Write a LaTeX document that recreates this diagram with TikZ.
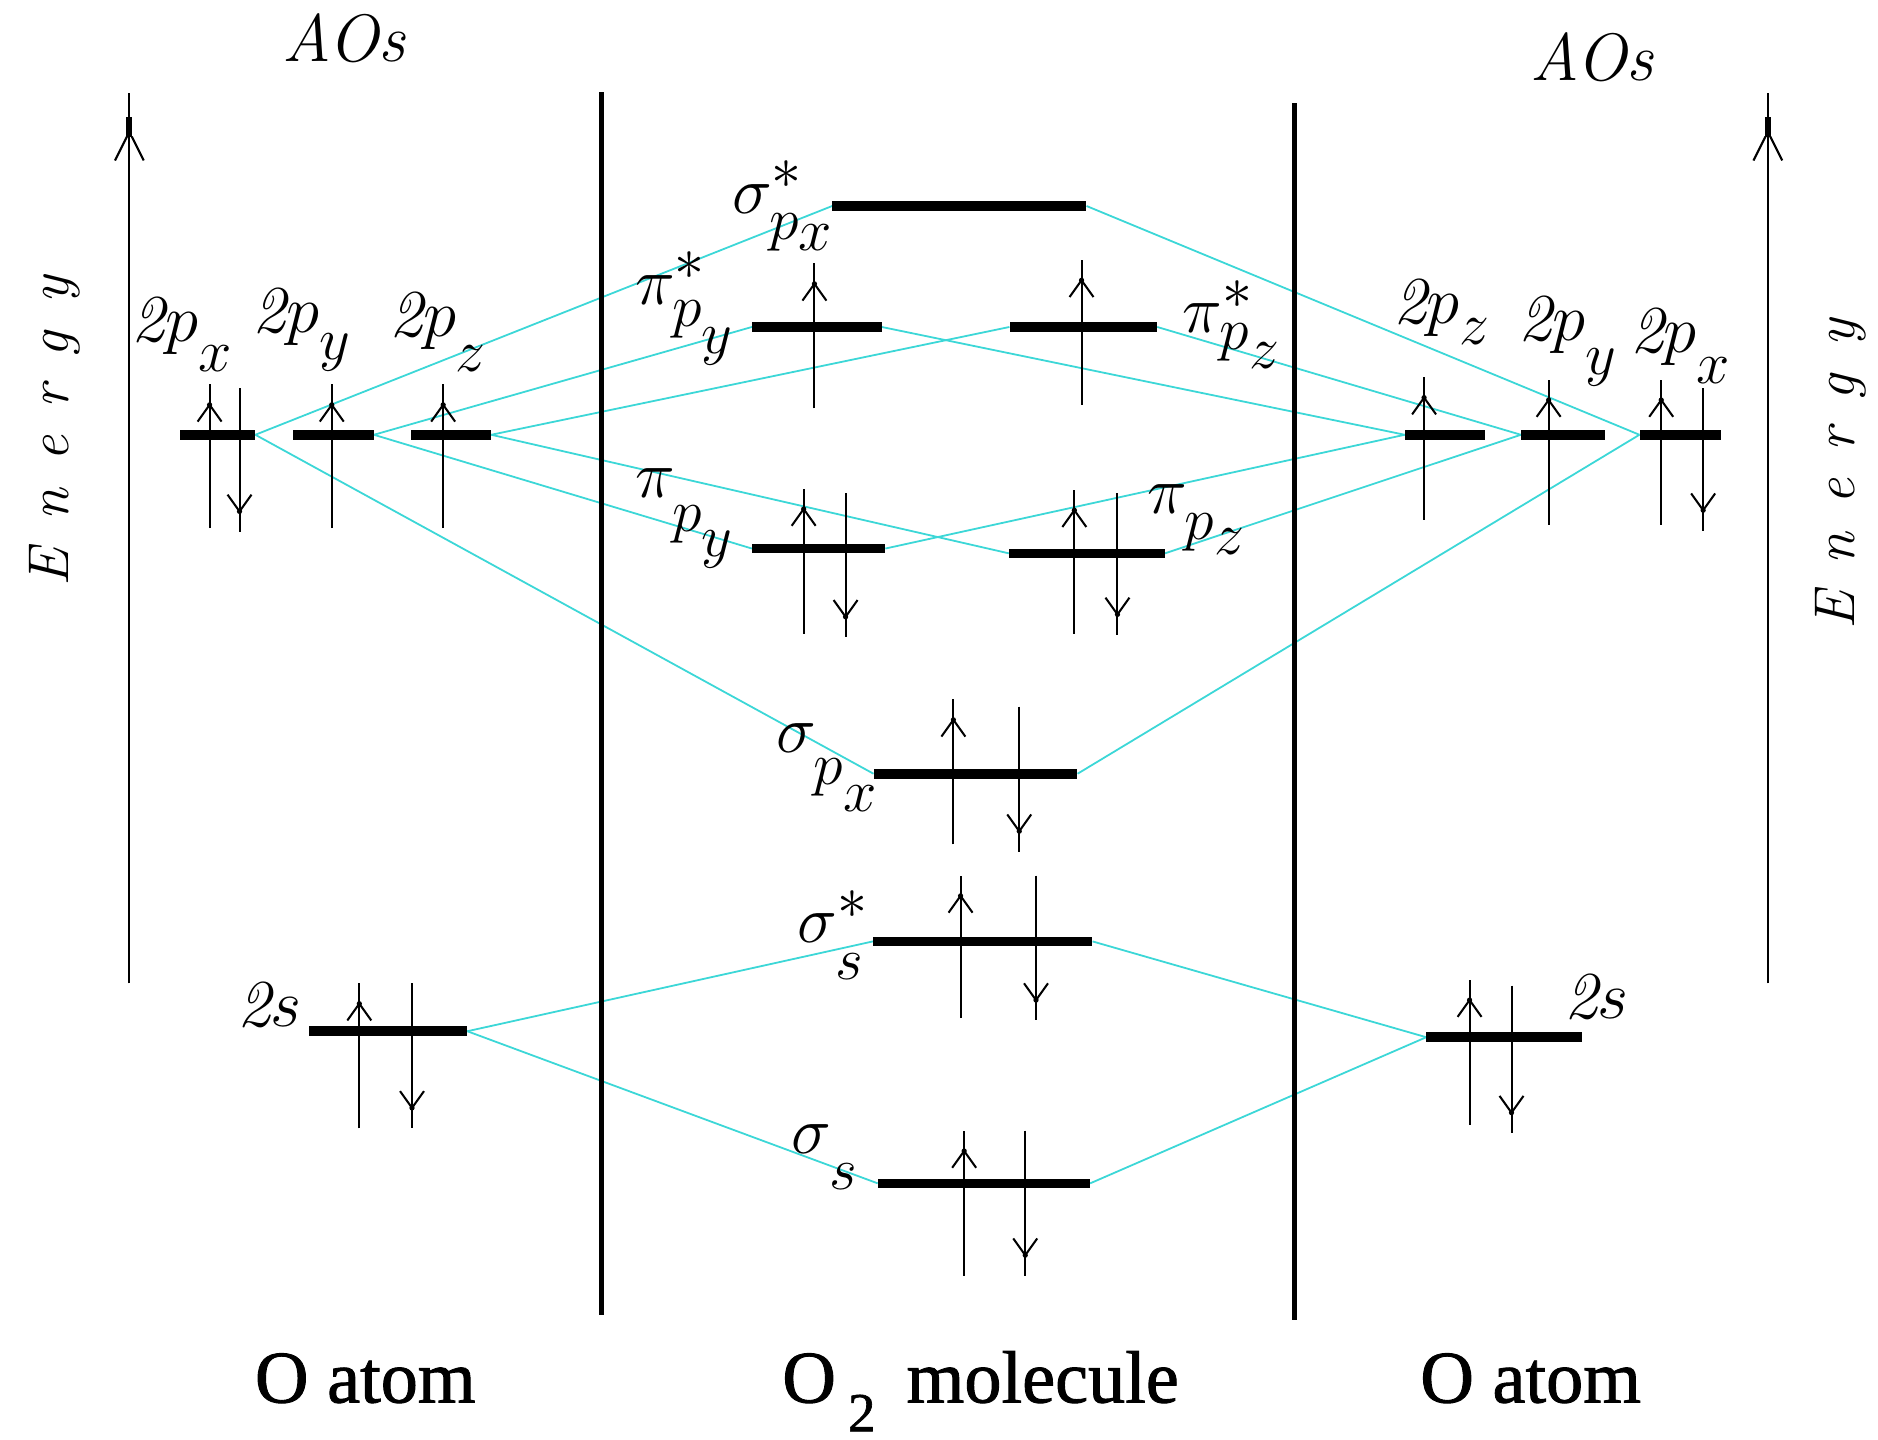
\RequirePackage{fix-cm}
\documentclass[tikz,border=0pt]{standalone}
\usepackage{fontspec}
\newfontfamily\timesfont[FakeBold=1.2]{Liberation Serif}
\DeclareMathSizes{56}{56}{50}{44}
\definecolor{mocyan}{RGB}{60,215,215}
\pgfdeclarelayer{background}
\pgfsetlayers{background,main}
\newcommand\lw[2]{\lower#1\hbox{$\scriptstyle#2$}}
\newcommand\eup[3]{%
  \draw[el] (#1,#3) -- (#1,#2);
  \draw[el] (#1-10,#2+31) -- (#1,#2+17) -- (#1+10,#2+31);
  \fill (#1,#2+17) circle (2.2pt);}
\newcommand\edn[3]{%
  \draw[el] (#1,#2) -- (#1,#3);
  \draw[el] (#1-10,#3-31) -- (#1,#3-17) -- (#1+10,#3-31);
  \fill (#1,#3-17) circle (2.2pt);}
\newcommand\egy{E\kern23pt n\kern23pt e\kern23pt r\kern23pt g\kern23pt y}
\begin{document}
\begin{tikzpicture}[x=1pt,y=-1pt,
  bar/.style={fill=black,inner sep=0pt,minimum height=8pt},
  el/.style={line width=1.7pt},
  mo/.style={draw=mocyan,line width=1.5pt},
  divider/.style={line width=4pt},
  axisline/.style={line width=1.8pt},
  lbl/.style={inner sep=0pt,anchor=base west,font=\fontsize{56}{60}\selectfont},
  bottomlbl/.style={inner sep=0pt,anchor=base,font=\timesfont\fontsize{62}{66}\selectfont},
  energy/.style={inner sep=0pt,anchor=base west,rotate=90,font=\fontsize{48}{52}\selectfont\itshape}]
\useasboundingbox (0,0) rectangle (1568,1202);

% energy axes
\draw[axisline] (108,821) -- (108,78);
\fill (105.5,98) rectangle (110.5,114);
\draw[axisline] (96,134) -- (106,114) (120,134) -- (110,114);
\draw[axisline] (1476,821) -- (1476,78);
\fill (1473.5,98) rectangle (1478.5,114);
\draw[axisline] (1464,134) -- (1474,114) (1488,134) -- (1478,114);
\node[energy] (enl) at (57,490) {\egy};
\node[energy] (enr) at (1548,526) {\egy};

% dividers
\draw[divider] (502,77) -- (502,1098);
\draw[divider] (1081,86) -- (1081,1102);

% titles
\node[lbl,font=\fontsize{56}{60}\selectfont\itshape] (aosl) at (236,51) {AOs};
\node[lbl,font=\fontsize{56}{60}\selectfont\itshape] (aosr) at (1278,67) {AOs};
\node[bottomlbl] (oatl) at (305,1171) {O atom};
\node[bottomlbl] (oatr) at (1278,1171) {O atom};
\node[inner sep=0pt,anchor=base west,font=\timesfont\fontsize{62}{66}\selectfont] (o2m) at (653,1171)
  {O\kern10pt\raisebox{-24pt}{\fontsize{46}{48}\selectfont 2}\kern26pt molecule};

% energy levels
\node[bar,minimum width=63pt] (L2px) at (181.5,363) {};
\node[bar,minimum width=67pt] (L2py) at (278.5,363) {};
\node[bar,minimum width=67pt] (L2pz) at (376.5,363) {};
\node[bar,minimum width=132pt] (L2s) at (324,861) {};
\node[bar,minimum width=67pt] (R2pz) at (1206.5,363) {};
\node[bar,minimum width=70pt] (R2py) at (1305,363) {};
\node[bar,minimum width=68pt] (R2px) at (1403,363) {};
\node[bar,minimum width=130pt] (R2s) at (1256,866) {};
\node[bar,minimum width=212pt] (Ssp) at (801,172) {};
\node[bar,minimum width=108pt] (Psy) at (682,273) {};
\node[bar,minimum width=123pt] (Psz) at (904.5,273) {};
\node[bar,minimum width=111pt] (Py) at (683.5,458) {};
\node[bar,minimum width=130pt] (Pz) at (907.5,462) {};
\node[bar,minimum width=170pt] (Sp) at (814.5,646) {};
\node[bar,minimum width=183pt] (Sss) at (820.5,786) {};
\node[bar,minimum width=177pt] (Ss) at (821.5,988) {};

% correlation lines
\begin{pgfonlayer}{background}
\draw[mo] (L2px.east) -- (Ssp.west);
\draw[mo] (L2px.east) -- (Sp.west);
\draw[mo] (L2py.east) -- (Psy.west);
\draw[mo] (L2py.east) -- (Py.west);
\draw[mo] (L2pz.east) -- (Psz.west);
\draw[mo] (L2pz.east) -- (Pz.west);
\draw[mo] (R2px.west) -- (Ssp.east);
\draw[mo] (R2px.west) -- (Sp.east);
\draw[mo] (R2py.west) -- (Psz.east);
\draw[mo] (R2py.west) -- (Pz.east);
\draw[mo] (R2pz.west) -- (Psy.east);
\draw[mo] (R2pz.west) -- (Py.east);
\draw[mo] (L2s.east) -- (Sss.west);
\draw[mo] (L2s.east) -- (Ss.west);
\draw[mo] (R2s.west) -- (Sss.east);
\draw[mo] (R2s.west) -- (Ss.east);
\end{pgfonlayer}

% electrons
\eup{175}{321}{441} \edn{200}{324}{444}
\eup{277}{321}{441}
\eup{370}{321}{441}
\eup{1189}{315}{434}
\eup{1293}{317}{438}
\eup{1387}{317}{438} \edn{1422}{324}{443}
\eup{300}{821}{942} \edn{344}{821}{942}
\eup{1227}{818}{939} \edn{1262}{823}{946}
\eup{680}{220}{341}
\eup{903}{217}{338}
\eup{671}{408}{529} \edn{706}{412}{532}
\eup{897}{409}{529} \edn{933}{412}{530}
\eup{796}{584}{705} \edn{851}{590}{711}
\eup{802}{731}{850} \edn{865}{731}{852}
\eup{805}{944}{1065} \edn{856}{944}{1065}

% AO labels
\node[lbl] (tL2px) at (110,285) {$\mathit{2}p_{\lw{17pt}{x}}$};
\node[lbl] (tL2py) at (211,278) {$\mathit{2}p_{\lw{14pt}{y}}$};
\node[lbl] (tL2pz) at (325,281) {$\mathit{2}p_{\lw{21pt}{z}}$};
\node[lbl] (tR2pz) at (1163,270) {$\mathit{2}p_{\lw{9pt}{z}}$};
\node[lbl] (tR2py) at (1268,284) {$\mathit{2}p_{\lw{20pt}{y}}$};
\node[lbl] (tR2px) at (1361,294) {$\mathit{2}p_{\lw{18pt}{x}}$};
\node[lbl] (tL2s) at (198,857) {$\mathit{2}s$};
\node[lbl] (tR2s) at (1306,850) {$\mathit{2}s$};

% MO labels
\node[lbl] (tSsp) at (611,178) {$\sigma^{*}_{\lw{8pt}{p_{\lw{2pt}{x}}}}$};
\node[lbl] (tPsy) at (530,254) {$\pi^{*}_{\lw{5pt}{p_{\lw{15pt}{y}}}}$};
\node[lbl] (tPsz) at (987,278) {$\pi^{*}_{\lw{0pt}{p_{\lw{8pt}{z}}}}$};
\node[lbl] (tPy) at (530,415) {$\pi_{\lw{20pt}{p_{\lw{14pt}{y}}}}$};
\node[lbl] (tPz) at (958,429) {$\pi_{\lw{13pt}{p_{\lw{5pt}{z}}}}$};
\node[lbl] (tSp) at (648,628) {$\sigma_{\lw{19pt}{p_{\lw{15pt}{x}}}}$};
\node[lbl] (tSss) at (666,787) {$\sigma^{*}_{\lw{17pt}{s}}$};
\node[lbl] (tSs) at (661,963) {$\sigma_{\lw{22pt}{s}}$};
\end{tikzpicture}
\end{document}
